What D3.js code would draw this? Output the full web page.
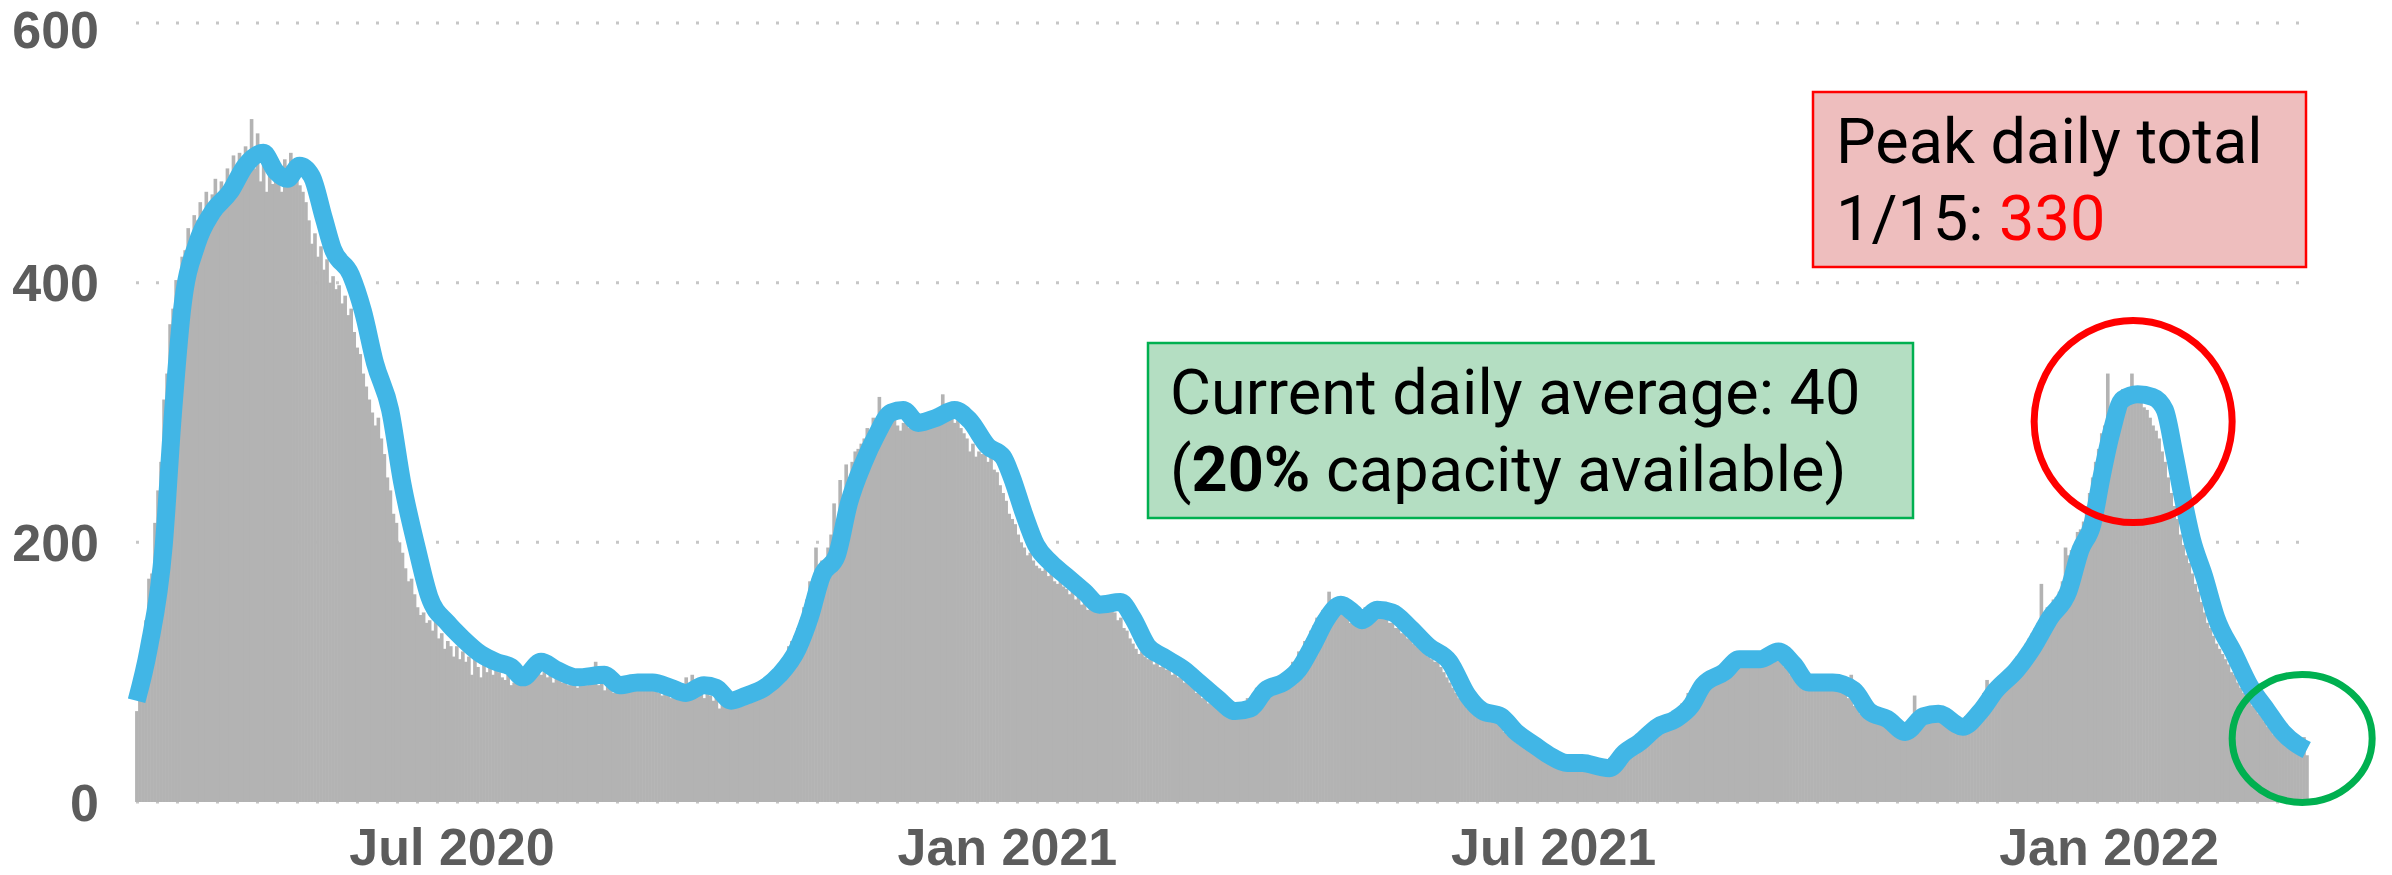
<!DOCTYPE html>
<html>
<head>
<meta charset="utf-8">
<script src="https://cdn.jsdelivr.net/npm/d3@7"></script>
<style>
  html, body { margin: 0; padding: 0; background: #ffffff; }
  svg { display: block; }
</style>
</head>
<body>
<svg id="chart" width="2392" height="875"></svg>
<script>
// ---------------- DATA ----------------
// first day of the daily series
const startDate = "2020-03-18";

// daily totals (one value per day starting at startDate)
const dailyTotals = [
  70, 95, 122, 140, 172, 176, 215, 240, 262, 310,
  330, 368, 380, 402, 392, 420, 425, 442, 430, 452,
  448, 462, 450, 470, 455, 468, 480, 462, 478, 470,
  488, 476, 498, 485, 500, 490, 505, 492, 526, 488,
  515, 478, 492, 470, 488, 476, 485, 478, 470, 495,
  490, 500, 478, 492, 475, 470, 462, 448, 430, 438,
  420, 428, 410, 418, 400, 405, 395, 398, 384, 390,
  375, 380, 362, 350, 345, 330, 320, 310, 300, 290,
  296, 280, 268, 250, 240, 222, 215, 200, 192, 180,
  170, 172, 160, 150, 144, 146, 138, 140, 132, 140,
  126, 130, 118, 124, 120, 112, 120, 110, 116, 108,
  112, 98, 110, 104, 96, 112, 100, 104, 98, 104,
  100, 96, 94, 98, 90, 92, 96, 102, 98, 104,
  104, 108, 100, 104, 98, 100, 96, 98, 92, 96,
  94, 92, 96, 90, 92, 94, 88, 96, 92, 90,
  96, 92, 108, 90, 94, 86, 100, 88, 84, 88,
  90, 94, 88, 92, 86, 94, 90, 88, 92, 90,
  88, 86, 90, 84, 82, 88, 84, 80, 86, 82,
  80, 84, 96, 82, 98, 86, 84, 90, 80, 84,
  82, 78, 80, 72, 76, 78, 80, 76, 82, 80,
  82, 84, 82, 86, 84, 88, 86, 92, 90, 96,
  96, 98, 104, 106, 110, 112, 120, 124, 128, 134,
  140, 150, 156, 170, 172, 196, 180, 186, 182, 196,
  206, 230, 215, 248, 232, 260, 250, 262, 270, 272,
  276, 280, 288, 284, 296, 290, 312, 298, 302, 296,
  300, 295, 290, 286, 292, 296, 288, 294, 290, 292,
  296, 298, 292, 300, 296, 298, 300, 314, 296, 294,
  298, 292, 294, 288, 284, 280, 270, 276, 266, 270,
  268, 272, 262, 266, 256, 254, 244, 238, 232, 222,
  218, 214, 206, 200, 196, 190, 192, 186, 182, 180,
  178, 180, 174, 176, 170, 168, 172, 166, 164, 160,
  162, 156, 158, 152, 154, 148, 150, 154, 158, 150,
  150, 156, 148, 152, 146, 140, 142, 134, 132, 126,
  122, 118, 114, 116, 112, 110, 112, 106, 108, 104,
  106, 102, 104, 98, 100, 96, 98, 92, 94, 90,
  88, 84, 86, 80, 82, 76, 78, 74, 72, 70,
  70, 68, 70, 68, 72, 70, 74, 76, 80, 78,
  84, 88, 84, 90, 86, 92, 88, 94, 92, 96,
  96, 100, 102, 108, 108, 116, 116, 124, 126, 132,
  136, 142, 140, 148, 146, 162, 156, 150, 146, 150,
  144, 142, 138, 140, 140, 146, 144, 150, 146, 148,
  146, 150, 144, 142, 142, 138, 138, 134, 134, 130,
  130, 126, 126, 122, 120, 118, 116, 114, 112, 110,
  108, 108, 104, 100, 96, 92, 88, 84, 80, 78,
  76, 72, 70, 68, 68, 66, 66, 66, 64, 64,
  62, 60, 58, 54, 52, 50, 48, 46, 44, 44,
  42, 40, 40, 38, 36, 34, 34, 32, 32, 30,
  30, 28, 30, 28, 30, 28, 30, 28, 28, 26,
  26, 26, 26, 24, 26, 26, 28, 30, 34, 36,
  38, 40, 40, 42, 44, 46, 46, 50, 52, 54,
  54, 58, 58, 60, 60, 62, 62, 64, 66, 68,
  70, 72, 76, 78, 84, 86, 90, 92, 94, 96,
  96, 98, 98, 102, 102, 104, 106, 108, 110, 110,
  108, 110, 108, 112, 110, 108, 110, 112, 112, 114,
  118, 120, 114, 112, 110, 108, 104, 102, 98, 96,
  94, 92, 92, 90, 92, 92, 90, 92, 90, 92,
  90, 90, 88, 88, 86, 86, 84, 80, 98, 74,
  72, 68, 68, 66, 66, 64, 64, 62, 60, 60,
  58, 56, 54, 54, 56, 58, 60, 62, 64, 82,
  66, 66, 66, 68, 68, 66, 64, 64, 62, 60,
  60, 58, 58, 60, 62, 64, 66, 68, 70, 72,
  76, 80, 84, 94, 88, 92, 92, 96, 98, 100,
  102, 104, 108, 112, 114, 118, 122, 126, 130, 134,
  138, 168, 144, 150, 150, 156, 158, 162, 170, 196,
  190, 194, 198, 208, 210, 216, 228, 238, 250, 262,
  272, 284, 290, 330, 300, 308, 312, 310, 318, 306,
  310, 330, 312, 310, 308, 304, 302, 296, 290, 286,
  280, 270, 262, 250, 238, 228, 218, 206, 198, 190,
  184, 176, 168, 162, 154, 146, 138, 134, 128, 122,
  118, 114, 110, 106, 100, 98, 92, 88, 84, 80,
  78, 74, 72, 68, 66, 62, 58, 56, 52, 50,
  48, 46, 44, 42, 42, 40, 38, 38, 50, 36
];

// 7-day average line: day offset from startDate, value
const avgDayOffsets = [
  0, 4, 9, 12, 15, 20, 25, 31, 36, 42, 46, 50, 54, 58, 62, 65, 71, 75, 79, 84,
  88, 93, 97, 103, 108, 114, 119, 124, 128, 134, 139, 146, 155, 160, 166, 171, 177, 182, 188, 192,
  197, 202, 208, 213, 219, 223, 227, 232, 236, 241, 245, 250, 254, 259, 265, 271, 276, 282, 287, 290,
  294, 298, 303, 308, 314, 319, 326, 330, 335, 340, 347, 352, 358, 364, 369, 374, 380, 385, 390, 394,
  399, 403, 406, 411, 416, 422, 428, 435, 441, 446, 452, 457, 463, 468, 474, 479, 485, 488, 493, 498,
  504, 510, 515, 519, 526, 531, 538, 544, 549, 554, 562, 569, 574, 580, 586, 592, 597, 605, 611, 616,
  623, 628, 634, 640, 644, 648, 651, 654, 658, 663, 668, 672, 675, 678, 681, 685, 689, 695, 700, 706,
  711, 716, 719
];
const avgValues = [
  78, 118, 198, 298, 378, 430, 454, 470, 490, 500, 486, 480, 490, 482, 450, 426, 406, 378, 338, 302,
  246, 194, 158, 138, 126, 114, 108, 104, 96, 108, 102, 96, 98, 90, 92, 92, 88, 84, 90, 88,
  78, 82, 88, 98, 118, 142, 174, 190, 230, 262, 282, 300, 302, 292, 296, 302, 294, 274, 266, 250,
  222, 198, 184, 174, 162, 152, 154, 142, 120, 112, 102, 92, 80, 70, 72, 86, 92, 102, 122, 140,
  152, 146, 140, 148, 146, 134, 120, 108, 82, 70, 66, 54, 44, 36, 30, 30, 27, 26, 38, 46,
  58, 64, 74, 90, 100, 110, 110, 116, 106, 92, 92, 86, 70, 64, 54, 66, 68, 58, 70, 86,
  102, 118, 142, 162, 194, 214, 250, 282, 310, 314, 312, 302, 270, 234, 202, 174, 142, 114, 90, 70,
  54, 44, 40
];

const yTickValues = [0, 200, 400, 600];
const xTickDates = ["2020-07-01", "2021-01-01", "2021-07-01", "2022-01-01"];
const xTickLabels = ["Jul 2020", "Jan 2021", "Jul 2021", "Jan 2022"];

const peakNote = { line1: "Peak daily total", line2a: "1/15: ", line2b: "330", day: 662, value: 293 };
const currentNote = { line1: "Current daily average: 40", pct: "20%", rest: " capacity available)", day: 718, value: 49 };

// ---------------- CHART ----------------
const parse = d3.timeParse("%Y-%m-%d");
const svg = d3.select("#chart");

const x = d3.scaleTime()
  .domain([parse("2020-07-01"), parse("2022-01-01")])
  .range([452, 2109]);
const y = d3.scaleLinear().domain([0, 600]).range([802, 23]);

const start = parse(startDate);
const dayDate = i => d3.timeDay.offset(start, i);

// gridlines (dotted)
const gridX0 = 136, gridX1 = 2303;
svg.append("g").selectAll("line")
  .data(yTickValues)
  .join("line")
  .attr("x1", gridX0).attr("x2", gridX1)
  .attr("y1", d => y(d)).attr("y2", d => y(d))
  .attr("stroke", "#c6c6c6")
  .attr("stroke-width", 3)
  .attr("stroke-dasharray", "3 17");

// y axis labels (baseline kept inside the canvas for the top one)
const labelSize = 52;
svg.append("g").selectAll("text")
  .data(yTickValues)
  .join("text")
  .attr("x", 99)
  .attr("y", d => Math.max(y(d) + 0.36 * labelSize, 48))
  .attr("text-anchor", "end")
  .attr("font-family", "'Liberation Sans', Arial, sans-serif")
  .attr("font-weight", "bold")
  .attr("font-size", labelSize)
  .attr("fill", "#5c5c5c")
  .text(d => d);

// x axis labels
svg.append("g").selectAll("text")
  .data(xTickDates.map((d, i) => ({ date: parse(d), label: xTickLabels[i] })))
  .join("text")
  .attr("x", d => x(d.date))
  .attr("y", 865)
  .attr("text-anchor", "middle")
  .attr("font-family", "'Liberation Sans', Arial, sans-serif")
  .attr("font-weight", "bold")
  .attr("font-size", labelSize)
  .attr("fill", "#5c5c5c")
  .text(d => d.label);

// daily bars
svg.append("g").selectAll("rect")
  .data(dailyTotals)
  .join("rect")
  .attr("x", (d, i) => x(dayDate(i)))
  .attr("width", (d, i) => x(dayDate(i + 1)) - x(dayDate(i)) + 0.6)
  .attr("y", d => y(d))
  .attr("height", d => y(0) - y(d))
  .attr("fill", "#b3b3b3");

// 7-day average line
const lineGen = d3.line()
  .x(d => x(dayDate(d[0])) + (x(dayDate(1)) - x(dayDate(0))) / 2)
  .y(d => y(d[1]))
  .curve(d3.curveMonotoneX);
svg.append("path")
  .datum(avgDayOffsets.map((o, i) => [o, avgValues[i]]))
  .attr("d", lineGen)
  .attr("fill", "none")
  .attr("stroke", "#41b6e6")
  .attr("stroke-width", 18)
  .attr("stroke-linejoin", "round");

// ---------------- ANNOTATIONS ----------------
const boxFont = "Roboto, 'Noto Sans', sans-serif";

// peak box
const pk = svg.append("g");
pk.append("rect")
  .attr("x", 1813).attr("y", 92).attr("width", 493).attr("height", 175)
  .attr("fill", "#eebebe").attr("stroke", "#ff0000").attr("stroke-width", 2.5);
pk.append("text")
  .attr("x", 1836).attr("y", 163)
  .attr("font-family", boxFont).attr("font-size", 63).attr("fill", "#000")
  .text(peakNote.line1);
const pk2 = pk.append("text")
  .attr("x", 1836).attr("y", 240)
  .attr("font-family", boxFont).attr("font-size", 63).attr("fill", "#000");
pk2.append("tspan").text(peakNote.line2a);
pk2.append("tspan").attr("fill", "#ff0000").text(peakNote.line2b);

// current box
const cb = svg.append("g");
cb.append("rect")
  .attr("x", 1148).attr("y", 343).attr("width", 765).attr("height", 175)
  .attr("fill", "#b4dec2").attr("stroke", "#00b050").attr("stroke-width", 2.5);
cb.append("text")
  .attr("x", 1170).attr("y", 414)
  .attr("font-family", boxFont).attr("font-size", 63).attr("fill", "#000")
  .text(currentNote.line1);
const cb2 = cb.append("text")
  .attr("x", 1170).attr("y", 491)
  .attr("font-family", boxFont).attr("font-size", 63).attr("fill", "#000");
cb2.append("tspan").text("(");
cb2.append("tspan").attr("font-weight", "bold").text(currentNote.pct);
cb2.append("tspan").text(currentNote.rest);

// circles
svg.append("ellipse")
  .attr("cx", x(dayDate(peakNote.day))).attr("cy", y(peakNote.value))
  .attr("rx", 99).attr("ry", 101)
  .attr("fill", "none").attr("stroke", "#ff0000").attr("stroke-width", 7);
svg.append("ellipse")
  .attr("cx", x(dayDate(currentNote.day))).attr("cy", y(currentNote.value))
  .attr("rx", 70).attr("ry", 64)
  .attr("fill", "none").attr("stroke", "#00b050").attr("stroke-width", 7);
</script>
</body>
</html>
